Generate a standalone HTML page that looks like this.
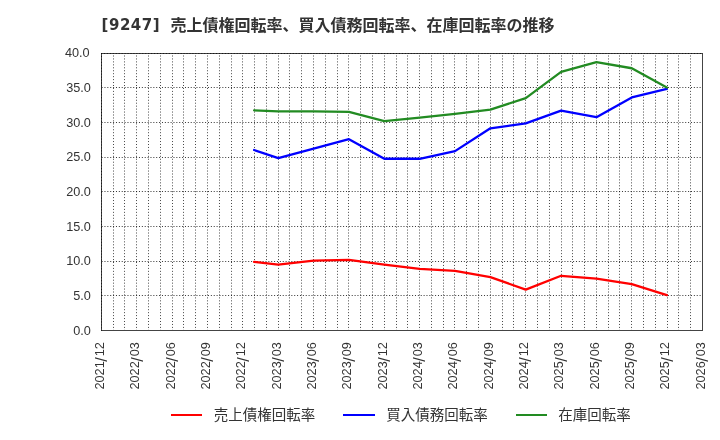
<!DOCTYPE html>
<html lang="ja">
<head>
<meta charset="utf-8">
<title>[9247] 売上債権回転率、買入債務回転率、在庫回転率の推移</title>
<style>
html,body{margin:0;padding:0;background:#fff;}
body{width:720px;height:440px;overflow:hidden;}
svg{display:block;will-change:transform;}
text{font-family:"Liberation Sans","Noto Sans CJK JP",sans-serif;fill:#333333;}
.title{font-family:"DejaVu Sans","Noto Sans CJK JP",sans-serif;font-weight:bold;font-size:16px;}
.ax{font-size:12.7px;}
.lg{font-size:14.5px;}
</style>
</head>
<body>
<svg width="720" height="440" viewBox="0 0 720 440">
<rect x="0" y="0" width="720" height="440" fill="#ffffff"/>
<text class="title" x="101.6" y="30.6"><tspan font-size="15" letter-spacing="0.5" dy="-0.4">[9247]</tspan><tspan x="170.5" dy="0.4">売上債権回転率、買入債務回転率、在庫回転率の推移</tspan></text>
<rect x="101.5" y="53.5" width="601.0" height="277.0" fill="none" stroke="#444444" stroke-width="1" shape-rendering="crispEdges"/>
<g stroke="#000000" stroke-opacity="0.72" stroke-width="1" stroke-dasharray="1 1.95" fill="none">
<line x1="113.5" y1="55.5" x2="113.5" y2="330.0"/>
<line x1="124.5" y1="55.5" x2="124.5" y2="330.0"/>
<line x1="136.5" y1="55.5" x2="136.5" y2="330.0"/>
<line x1="148.5" y1="55.5" x2="148.5" y2="330.0"/>
<line x1="160.5" y1="55.5" x2="160.5" y2="330.0"/>
<line x1="172.5" y1="55.5" x2="172.5" y2="330.0"/>
<line x1="183.5" y1="55.5" x2="183.5" y2="330.0"/>
<line x1="195.5" y1="55.5" x2="195.5" y2="330.0"/>
<line x1="207.5" y1="55.5" x2="207.5" y2="330.0"/>
<line x1="219.5" y1="55.5" x2="219.5" y2="330.0"/>
<line x1="231.5" y1="55.5" x2="231.5" y2="330.0"/>
<line x1="242.5" y1="55.5" x2="242.5" y2="330.0"/>
<line x1="254.5" y1="55.5" x2="254.5" y2="330.0"/>
<line x1="266.5" y1="55.5" x2="266.5" y2="330.0"/>
<line x1="278.5" y1="55.5" x2="278.5" y2="330.0"/>
<line x1="289.5" y1="55.5" x2="289.5" y2="330.0"/>
<line x1="301.5" y1="55.5" x2="301.5" y2="330.0"/>
<line x1="313.5" y1="55.5" x2="313.5" y2="330.0"/>
<line x1="325.5" y1="55.5" x2="325.5" y2="330.0"/>
<line x1="337.5" y1="55.5" x2="337.5" y2="330.0"/>
<line x1="348.5" y1="55.5" x2="348.5" y2="330.0"/>
<line x1="360.5" y1="55.5" x2="360.5" y2="330.0"/>
<line x1="372.5" y1="55.5" x2="372.5" y2="330.0"/>
<line x1="384.5" y1="55.5" x2="384.5" y2="330.0"/>
<line x1="396.5" y1="55.5" x2="396.5" y2="330.0"/>
<line x1="407.5" y1="55.5" x2="407.5" y2="330.0"/>
<line x1="419.5" y1="55.5" x2="419.5" y2="330.0"/>
<line x1="431.5" y1="55.5" x2="431.5" y2="330.0"/>
<line x1="443.5" y1="55.5" x2="443.5" y2="330.0"/>
<line x1="454.5" y1="55.5" x2="454.5" y2="330.0"/>
<line x1="466.5" y1="55.5" x2="466.5" y2="330.0"/>
<line x1="478.5" y1="55.5" x2="478.5" y2="330.0"/>
<line x1="490.5" y1="55.5" x2="490.5" y2="330.0"/>
<line x1="502.5" y1="55.5" x2="502.5" y2="330.0"/>
<line x1="513.5" y1="55.5" x2="513.5" y2="330.0"/>
<line x1="525.5" y1="55.5" x2="525.5" y2="330.0"/>
<line x1="537.5" y1="55.5" x2="537.5" y2="330.0"/>
<line x1="549.5" y1="55.5" x2="549.5" y2="330.0"/>
<line x1="561.5" y1="55.5" x2="561.5" y2="330.0"/>
<line x1="572.5" y1="55.5" x2="572.5" y2="330.0"/>
<line x1="584.5" y1="55.5" x2="584.5" y2="330.0"/>
<line x1="596.5" y1="55.5" x2="596.5" y2="330.0"/>
<line x1="608.5" y1="55.5" x2="608.5" y2="330.0"/>
<line x1="619.5" y1="55.5" x2="619.5" y2="330.0"/>
<line x1="631.5" y1="55.5" x2="631.5" y2="330.0"/>
<line x1="643.5" y1="55.5" x2="643.5" y2="330.0"/>
<line x1="655.5" y1="55.5" x2="655.5" y2="330.0"/>
<line x1="667.5" y1="55.5" x2="667.5" y2="330.0"/>
<line x1="678.5" y1="55.5" x2="678.5" y2="330.0"/>
<line x1="690.5" y1="55.5" x2="690.5" y2="330.0"/>
<line x1="101.6" y1="295.5" x2="702.0" y2="295.5" stroke-dasharray="1 1.875" stroke-opacity="0.8"/>
<line x1="101.6" y1="261.5" x2="702.0" y2="261.5" stroke-dasharray="1 1.875" stroke-opacity="0.8"/>
<line x1="101.6" y1="226.5" x2="702.0" y2="226.5" stroke-dasharray="1 1.875" stroke-opacity="0.8"/>
<line x1="101.6" y1="191.5" x2="702.0" y2="191.5" stroke-dasharray="1 1.875" stroke-opacity="0.8"/>
<line x1="101.6" y1="157.5" x2="702.0" y2="157.5" stroke-dasharray="1 1.875" stroke-opacity="0.8"/>
<line x1="101.6" y1="122.5" x2="702.0" y2="122.5" stroke-dasharray="1 1.875" stroke-opacity="0.8"/>
<line x1="101.6" y1="87.5" x2="702.0" y2="87.5" stroke-dasharray="1 1.875" stroke-opacity="0.8"/>
<line x1="101.5" y1="53" x2="101.5" y2="331"/>
<line x1="101" y1="53.5" x2="703" y2="53.5"/>
</g>
<polyline points="254.10,261.94 278.26,264.71 313.62,260.56 348.97,259.87 384.32,264.71 419.68,268.87 455.03,270.94 490.38,277.18 525.74,289.64 561.09,275.79 596.44,278.56 631.79,284.10 666.85,295.18" fill="none" stroke="#ff0000" stroke-width="2.3" stroke-linejoin="round" stroke-linecap="round"/>
<polyline points="254.10,150.03 278.26,158.07 313.62,148.72 348.97,139.16 384.32,158.76 419.68,158.76 455.03,151.14 490.38,128.29 525.74,123.44 561.09,110.63 596.44,117.21 631.79,97.47 666.85,88.82" fill="none" stroke="#0000ff" stroke-width="2.3" stroke-linejoin="round" stroke-linecap="round"/>
<polyline points="254.10,110.28 278.26,111.32 313.62,111.32 348.97,111.88 384.32,121.02 419.68,117.56 455.03,113.89 490.38,109.59 525.74,98.17 561.09,71.85 596.44,62.16 631.79,68.25 666.85,87.57" fill="none" stroke="#228b22" stroke-width="2.3" stroke-linejoin="round" stroke-linecap="round"/>
<text class="ax" x="90.9" y="335.2" text-anchor="end">0.0</text>
<text class="ax" x="90.9" y="299.7" text-anchor="end">5.0</text>
<text class="ax" x="90.9" y="265.1" text-anchor="end">10.0</text>
<text class="ax" x="90.9" y="231.3" text-anchor="end">15.0</text>
<text class="ax" x="90.9" y="195.8" text-anchor="end">20.0</text>
<text class="ax" x="90.9" y="161.2" text-anchor="end">25.0</text>
<text class="ax" x="90.9" y="126.6" text-anchor="end">30.0</text>
<text class="ax" x="90.9" y="91.9" text-anchor="end">35.0</text>
<text class="ax" x="89.6" y="57.3" text-anchor="end">40.0</text>
<text class="ax" transform="translate(103.8,389.5) rotate(-90)" x="0" y="0">2021<tspan dx="-0.35" dy="3.3" font-size="16">/</tspan><tspan dx="0.9" dy="-3.3">12</tspan></text>
<text class="ax" transform="translate(139.2,389.5) rotate(-90)" x="0" y="0">2022<tspan dx="-0.35" dy="3.3" font-size="16">/</tspan><tspan dx="0.9" dy="-3.3">03</tspan></text>
<text class="ax" transform="translate(174.5,389.5) rotate(-90)" x="0" y="0">2022<tspan dx="-0.35" dy="3.3" font-size="16">/</tspan><tspan dx="0.9" dy="-3.3">06</tspan></text>
<text class="ax" transform="translate(209.9,389.5) rotate(-90)" x="0" y="0">2022<tspan dx="-0.35" dy="3.3" font-size="16">/</tspan><tspan dx="0.9" dy="-3.3">09</tspan></text>
<text class="ax" transform="translate(245.2,389.5) rotate(-90)" x="0" y="0">2022<tspan dx="-0.35" dy="3.3" font-size="16">/</tspan><tspan dx="0.9" dy="-3.3">12</tspan></text>
<text class="ax" transform="translate(280.6,389.5) rotate(-90)" x="0" y="0">2023<tspan dx="-0.35" dy="3.3" font-size="16">/</tspan><tspan dx="0.9" dy="-3.3">03</tspan></text>
<text class="ax" transform="translate(315.9,389.5) rotate(-90)" x="0" y="0">2023<tspan dx="-0.35" dy="3.3" font-size="16">/</tspan><tspan dx="0.9" dy="-3.3">06</tspan></text>
<text class="ax" transform="translate(351.3,389.5) rotate(-90)" x="0" y="0">2023<tspan dx="-0.35" dy="3.3" font-size="16">/</tspan><tspan dx="0.9" dy="-3.3">09</tspan></text>
<text class="ax" transform="translate(386.6,389.5) rotate(-90)" x="0" y="0">2023<tspan dx="-0.35" dy="3.3" font-size="16">/</tspan><tspan dx="0.9" dy="-3.3">12</tspan></text>
<text class="ax" transform="translate(422.0,389.5) rotate(-90)" x="0" y="0">2024<tspan dx="-0.35" dy="3.3" font-size="16">/</tspan><tspan dx="0.9" dy="-3.3">03</tspan></text>
<text class="ax" transform="translate(457.3,389.5) rotate(-90)" x="0" y="0">2024<tspan dx="-0.35" dy="3.3" font-size="16">/</tspan><tspan dx="0.9" dy="-3.3">06</tspan></text>
<text class="ax" transform="translate(492.7,389.5) rotate(-90)" x="0" y="0">2024<tspan dx="-0.35" dy="3.3" font-size="16">/</tspan><tspan dx="0.9" dy="-3.3">09</tspan></text>
<text class="ax" transform="translate(528.0,389.5) rotate(-90)" x="0" y="0">2024<tspan dx="-0.35" dy="3.3" font-size="16">/</tspan><tspan dx="0.9" dy="-3.3">12</tspan></text>
<text class="ax" transform="translate(563.4,389.5) rotate(-90)" x="0" y="0">2025<tspan dx="-0.35" dy="3.3" font-size="16">/</tspan><tspan dx="0.9" dy="-3.3">03</tspan></text>
<text class="ax" transform="translate(598.7,389.5) rotate(-90)" x="0" y="0">2025<tspan dx="-0.35" dy="3.3" font-size="16">/</tspan><tspan dx="0.9" dy="-3.3">06</tspan></text>
<text class="ax" transform="translate(634.1,389.5) rotate(-90)" x="0" y="0">2025<tspan dx="-0.35" dy="3.3" font-size="16">/</tspan><tspan dx="0.9" dy="-3.3">09</tspan></text>
<text class="ax" transform="translate(669.4,389.5) rotate(-90)" x="0" y="0">2025<tspan dx="-0.35" dy="3.3" font-size="16">/</tspan><tspan dx="0.9" dy="-3.3">12</tspan></text>
<text class="ax" transform="translate(704.8,389.5) rotate(-90)" x="0" y="0">2026<tspan dx="-0.35" dy="3.3" font-size="16">/</tspan><tspan dx="0.9" dy="-3.3">03</tspan></text>
<line x1="171.0" y1="415" x2="202.0" y2="415" stroke="#ff0000" stroke-width="2"/>
<text class="lg" x="213.7" y="420.1">売上債権回転率</text>
<line x1="343.0" y1="415" x2="375.0" y2="415" stroke="#0000ff" stroke-width="2"/>
<text class="lg" x="386.2" y="420.1">買入債務回転率</text>
<line x1="516.0" y1="415" x2="547.0" y2="415" stroke="#228b22" stroke-width="2"/>
<text class="lg" x="558.2" y="420.1">在庫回転率</text>
</svg>
</body>
</html>
